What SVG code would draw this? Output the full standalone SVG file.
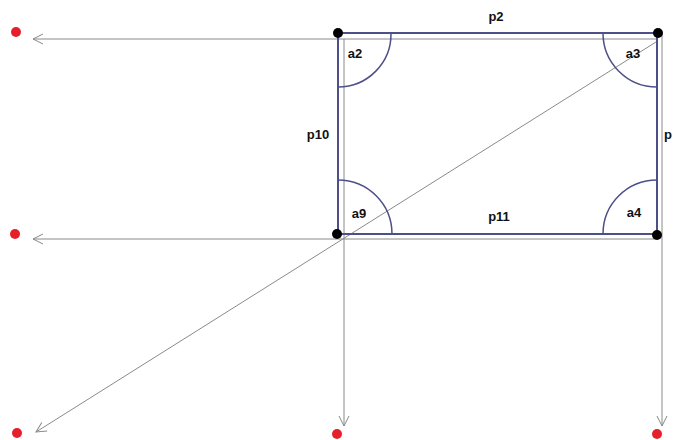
<svg xmlns="http://www.w3.org/2000/svg" width="673" height="440" viewBox="0 0 673 440">
<defs>
<marker id="ah" viewBox="0 0 12 12" refX="11" refY="6" markerWidth="12" markerHeight="12" markerUnits="userSpaceOnUse" orient="auto">
<path d="M1,1 L11,6 L1,11" fill="none" stroke="#888" stroke-width="1"/>
</marker>
<style>
.g{stroke:#8a8a8a;stroke-width:1;fill:none}
.b{stroke:#4d5088;stroke-width:2;fill:none}
.a{stroke:#4d5088;stroke-width:1.5;fill:none}
.t{font-family:"Liberation Sans",Arial,sans-serif;font-weight:bold;font-size:13px;fill:#111}
.k{fill:#000}
.r{fill:#e5202a}
</style>
</defs>
<rect width="673" height="440" fill="#fff"/>
<g id="connectors">
<line class="g" x1="656" y1="39" x2="33" y2="39" marker-end="url(#ah)"/>
<line class="g" x1="656" y1="239" x2="33" y2="239" marker-end="url(#ah)"/>
<line class="g" x1="344" y1="39" x2="344" y2="426" marker-end="url(#ah)"/>
<line class="g" x1="662" y1="33" x2="662" y2="426" marker-end="url(#ah)"/>
<line class="g" x1="656" y1="42" x2="36" y2="432" marker-end="url(#ah)"/>
</g>
<g id="rect">
<line class="b" x1="338" y1="33" x2="658" y2="33"/>
<line class="b" x1="338" y1="234" x2="658" y2="234"/>
<line class="b" x1="338" y1="33" x2="338" y2="234"/>
<line class="b" x1="657" y1="33" x2="657" y2="234"/>
</g>
<g id="a2"><path class="a" d="M391,33 A53,53 0 0 1 338,87"/><text class="t" x="355" y="58" text-anchor="middle">a2</text></g>
<g id="a3"><path class="a" d="M603,33 A54,54 0 0 0 657,87"/><text class="t" x="633" y="58" text-anchor="middle">a3</text></g>
<g id="a9"><path class="a" d="M338,180 A54,54 0 0 1 392,234"/><text class="t" x="359" y="218" text-anchor="middle">a9</text></g>
<g id="a4"><path class="a" d="M657,180 A54,54 0 0 0 603,234"/><text class="t" x="634" y="217" text-anchor="middle">a4</text></g>
<g id="labels">
<text class="t" x="496" y="21" text-anchor="middle">p2</text>
<text class="t" x="318" y="139" text-anchor="middle">p10</text>
<text class="t" x="499" y="221" text-anchor="middle">p11</text>
<text class="t" x="664" y="139">p</text>
</g>
<g id="dots">
<circle class="k" cx="338" cy="33" r="5"/>
<circle class="k" cx="658" cy="33" r="5"/>
<circle class="k" cx="337" cy="234" r="5"/>
<circle class="k" cx="657" cy="235" r="5"/>
</g>
<g id="red">
<circle class="r" cx="16" cy="32" r="5"/>
<circle class="r" cx="15" cy="234" r="5"/>
<circle class="r" cx="17" cy="433" r="5"/>
<circle class="r" cx="337" cy="434" r="5"/>
<circle class="r" cx="657" cy="434" r="5"/>
</g>
</svg>
